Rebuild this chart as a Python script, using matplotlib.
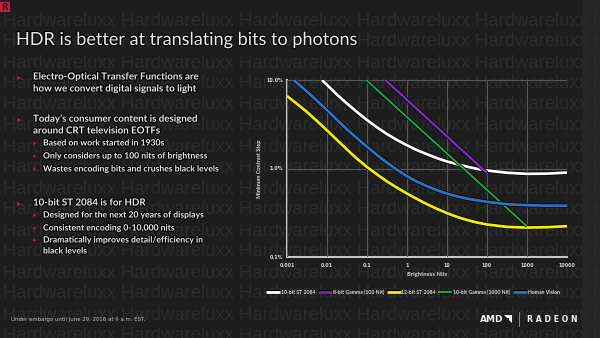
import matplotlib
matplotlib.use("Agg")
import matplotlib.pyplot as plt
import matplotlib.patheffects as pe
from matplotlib.patches import Rectangle, Polygon
from matplotlib.ticker import FixedLocator, FixedFormatter, NullLocator

# ---- curve data: brightness (nits) vs. minimum contrast step (%) ----
st2084_10_nits = [0.0075, 0.01, 0.0178, 0.0316, 0.0562, 0.1, 0.178, 0.316, 0.562, 1, 1.78,
                  3.16, 5.62, 10, 17.8, 31.6, 56.2, 100, 316, 1000, 3160, 10000]
st2084_10_step = [10.0, 8.8, 6.84, 5.42, 4.35, 3.53, 2.92, 2.45, 2.10, 1.83, 1.61,
                  1.45, 1.31, 1.20, 1.12, 1.05, 0.99, 0.95, 0.895, 0.87, 0.875, 0.90]

gamma8_nits = [0.287, 100]
gamma8_step = [10.0, 0.89]

st2084_12_nits = [0.001, 0.00178, 0.00316, 0.00562, 0.01, 0.0178, 0.0316, 0.0562, 0.1, 0.178,
                  0.316, 0.562, 1, 1.78, 3.16, 5.62, 10, 17.8, 31.6, 56.2, 100, 316, 1000,
                  3160, 10000]
st2084_12_step = [6.59, 5.37, 4.35, 3.44, 2.70, 2.10, 1.64, 1.29, 1.04, 0.857,
                  0.714, 0.607, 0.521, 0.452, 0.395, 0.350, 0.313, 0.284, 0.262, 0.245, 0.233,
                  0.219, 0.215, 0.217, 0.223]

gamma10_nits = [0.096, 1000]
gamma10_step = [10.0, 0.222]

human_nits = [0.00147, 0.00178, 0.00316, 0.00562, 0.01, 0.0178, 0.0316, 0.0562, 0.1, 0.178,
              0.316, 0.562, 1, 1.78, 3.16, 5.62, 10, 17.8, 31.6, 56.2, 100, 316, 1000,
              3160, 10000]
human_step = [10.0, 9.29, 7.40, 5.83, 4.57, 3.56, 2.77, 2.20, 1.76, 1.42,
              1.16, 0.968, 0.818, 0.711, 0.631, 0.569, 0.520, 0.484, 0.457, 0.437, 0.420,
              0.395, 0.385, 0.380, 0.380]

series_labels = ["10-bit ST 2084", "8-bit Gamma (100 Nit)", "12-bit ST 2084",
                 "10-bit Gamma (1000 Nit)", "Human Vision"]
x_ticks = [0.001, 0.01, 0.1, 1, 10, 100, 1000, 10000]
x_tick_labels = ["0.001", "0.01", "0.1", "1", "10", "100", "1000", "10000"]
y_ticks = [0.1, 1, 10]
y_tick_labels = ["0.1%", "1.0%", "10.0%"]

title = "HDR is better at translating bits to photons"
# (indent level, show marker, text, vertical centre in px)
bullet_lines = [
    (0, True, "Electro-Optical Transfer Functions are", 77),
    (0, False, "how we convert digital signals to light", 89),
    (0, True, "Today\u2019s consumer content is designed", 119),
    (0, False, "around CRT television EOTFs", 131),
    (1, True, "Based on work started in 1930s", 143),
    (1, True, "Only considers up to 100 nits of brightness", 156),
    (1, True, "Wastes encoding bits and crushes black levels", 169),
    (0, True, "10-bit ST 2084 is for HDR", 203),
    (1, True, "Designed for the next 20 years of displays", 215),
    (1, True, "Consistent encoding 0-10,000 nits", 228),
    (1, True, "Dramatically improves detail/efficiency in", 240),
    (1, False, "black levels", 251),
]

W, H = 600, 338
BG = "#1d1d1d"
fig = plt.figure(figsize=(W / 100, H / 100), dpi=100, facecolor=BG)


def px(x, y):
    return x / W, 1 - y / H


# right-hand strip of the slide
fig.patches.append(Rectangle(px(582, H), (W - 582) / W, 1, transform=fig.transFigure,
                             facecolor="#252525", edgecolor="none", zorder=-20))

# faint repeated watermark rows
wm = "Hardwareluxx " * 6
for k in range(-1, 16):
    yc = 42 + 21 * k
    fig.text(*px(3, yc), wm, fontsize=13.3, family="Liberation Sans", color="#2b2b2b",
             va="center", ha="left", zorder=-10)

outline = [pe.withStroke(linewidth=1.6, foreground="#050505")]

# corner logo
fig.patches.append(Rectangle(px(0, 12), 10 / W, 10 / H, transform=fig.transFigure,
                             facecolor="#d2163b", edgecolor="none"))
fig.text(*px(5, 7.2), "R", fontsize=6, weight="bold", color="#1a1a1a",
         ha="center", va="center", family="DejaVu Sans")

# title
fig.text(*px(16, 40), title, fontsize=13, color="#ececec", family="Lato",
         ha="left", va="center", path_effects=outline)

# bullet list
RED = "#c0143a"
for level, marker, text, y in bullet_lines:
    if level == 0:
        bx, tx, fs = 17, 33, 7.0
    else:
        bx, tx, fs = 33, 43, 6.2
    if marker:
        fig.text(*px(bx, y), "\u25B8", fontsize=fs - 1, color=RED, ha="left", va="center",
                 family="DejaVu Sans")
    fig.text(*px(tx, y), text, fontsize=fs, color="#e8e8e8", weight="bold", family="Lato",
             ha="left", va="center", path_effects=outline)

# ---- chart ----
ax = fig.add_axes([287 / W, 1 - 257 / H, 280 / W, 177 / H])
ax.set_facecolor("none")
ax.set_xscale("log")
ax.set_yscale("log")
ax.set_xlim(0.001, 10000)
ax.set_ylim(0.1, 10)

ax.xaxis.set_major_locator(FixedLocator(x_ticks))
ax.xaxis.set_major_formatter(FixedFormatter(x_tick_labels))
ax.xaxis.set_minor_locator(NullLocator())
ax.yaxis.set_major_locator(FixedLocator(y_ticks))
ax.yaxis.set_major_formatter(FixedFormatter(y_tick_labels))
ax.yaxis.set_minor_locator(NullLocator())
ax.tick_params(length=0, labelsize=3.5, labelcolor="#d8d8d8")
ax.tick_params(axis="x", pad=4.5)
ax.tick_params(axis="y", pad=3)
for lab in ax.get_xticklabels() + ax.get_yticklabels():
    lab.set_fontweight("bold")
    lab.set_family("DejaVu Sans")
ax.grid(True, color="#575757", linewidth=0.8)
for side in ("top", "right"):
    ax.spines[side].set_visible(False)
for side in ("left", "bottom"):
    ax.spines[side].set_color("#d0d0d0")
    ax.spines[side].set_linewidth(1.4)
    ax.spines[side].set_zorder(1)

ax.set_xlabel("Brightness Nits", fontsize=4.2, color="#d8d8d8", weight="bold",
              family="Lato", labelpad=3)
ax.set_ylabel("Minimum Contrast Step", fontsize=4.0, color="#d8d8d8", weight="bold",
              family="Lato", labelpad=3)


def curve(x, y, color, lw):
    return ax.plot(x, y, color=color, lw=lw, solid_capstyle="butt", zorder=3,
                   path_effects=[pe.Stroke(linewidth=lw + 1.0, foreground="black"), pe.Normal()])[0]


h_white = curve(st2084_10_nits, st2084_10_step, "#ffffff", 2.0)
h_purple = curve(gamma8_nits, gamma8_step, "#7a2db8", 1.8)
h_yellow = curve(st2084_12_nits, st2084_12_step, "#f2f000", 2.0)
h_green = curve(gamma10_nits, gamma10_step, "#1faa4a", 1.4)
h_blue = curve(human_nits, human_step, "#2f72c4", 2.0)

leg = fig.legend([h_white, h_purple, h_yellow, h_green, h_blue], series_labels,
                 loc="center", bbox_to_anchor=px(413, 292), ncol=5, frameon=False,
                 prop={"family": "Lato", "weight": "bold", "size": 3.7},
                 handlelength=2.7, handletextpad=0.15, columnspacing=0.5,
                 labelcolor="#d8d8d8")

# footer
fig.text(*px(11, 320), "Under embargo until June 29, 2016 at 9 a.m. EST.", fontsize=3.9,
         color="#bdbdbd", ha="left", va="center")

# brand mark
fig.text(*px(480, 319), "AMD", fontsize=6.5, weight="bold", color="#f2f2f2",
         ha="left", va="center", family="DejaVu Sans")
ax_logo = [(504, 315), (512, 315), (512, 323), (509, 320), (509, 318), (507, 318)]
fig.patches.append(Polygon([px(*p) for p in ax_logo], closed=True, transform=fig.transFigure,
                           facecolor="#f2f2f2", edgecolor="none"))
fig.lines.append(plt.Line2D([519 / W, 519 / W], [1 - 312 / H, 1 - 326 / H],
                            transform=fig.transFigure, color="#9a9a9a", lw=0.6))
fig.text(*px(527, 319), "R A D E O N", fontsize=5.6, weight="bold", color="#f2f2f2",
         ha="left", va="center", family="DejaVu Sans")

fig.savefig("out.png", dpi=100, facecolor=BG)
